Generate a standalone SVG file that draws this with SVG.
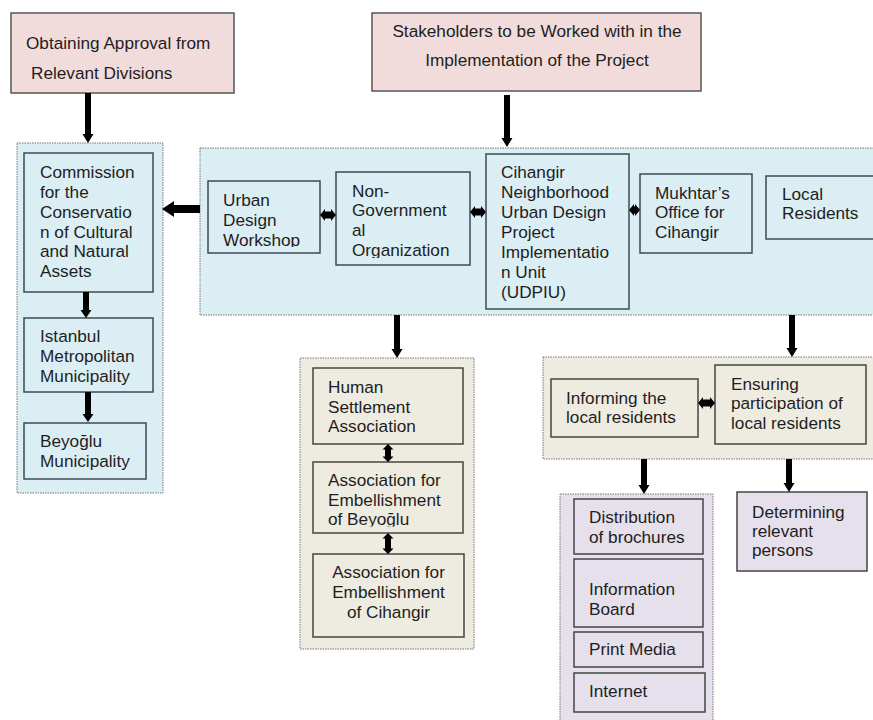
<svg xmlns="http://www.w3.org/2000/svg" width="873" height="720" viewBox="0 0 873 720">
<style>
text{font-family:"Liberation Sans",Arial,sans-serif;font-size:17.2px;fill:#1e1e1e}
.pink{fill:#f2dcdb;stroke:#555;stroke-width:1.5}
.blue{fill:#dbeef4;stroke:#3c4a55;stroke-width:1.5}
.tan{fill:#eeece1;stroke:#444;stroke-width:1.5}
.pur{fill:#e5e0ec;stroke:#444;stroke-width:1.5}
.cb{fill:#dbeef4;stroke:#777;stroke-width:1;stroke-dasharray:1.5 1}
.ct{fill:#eeece1;stroke:#777;stroke-width:1;stroke-dasharray:1.5 1}
.cp{fill:#e5e0ec;stroke:#777;stroke-width:1;stroke-dasharray:1.5 1}
.arr{fill:#000}
</style>
<defs>
<clipPath id="clipUrban"><rect x="208" y="181" width="112" height="66"/></clipPath>
<clipPath id="clipNgo"><rect x="336" y="172" width="134" height="86"/></clipPath>
<clipPath id="clipAb"><rect x="313" y="462" width="150" height="64.5"/></clipPath>
</defs>
<rect width="873" height="720" fill="#fff"/>

<g id="containers">
<rect class="cb" x="17" y="143" width="146" height="350"/>
<rect class="cb" x="200" y="148" width="680" height="167"/>
<rect class="ct" x="300" y="358" width="174" height="291"/>
<rect class="ct" x="543" y="357" width="340" height="102"/>
<rect class="cp" x="560" y="494" width="153" height="240"/>
</g>

<g id="obtaining">
<rect class="pink" x="11" y="13" width="223" height="80"/>
<text x="26" y="49">Obtaining Approval from</text>
<text x="31" y="79">Relevant Divisions</text>
</g>

<g id="stakeholders">
<rect class="pink" x="372" y="13" width="329" height="78"/>
<text x="537" y="37" text-anchor="middle">Stakeholders to be Worked with in the</text>
<text x="537" y="66" text-anchor="middle">Implementation of the Project</text>
</g>

<g id="commission">
<rect class="blue" x="24" y="153" width="129" height="139"/>
<text x="40" y="178">Commission</text>
<text x="40" y="198">for the</text>
<text x="40" y="218">Conservatio</text>
<text x="40" y="238">n of Cultural</text>
<text x="40" y="257">and Natural</text>
<text x="40" y="277">Assets</text>
</g>

<g id="istanbul">
<rect class="blue" x="24" y="318" width="129" height="74"/>
<text x="40" y="342">Istanbul</text>
<text x="40" y="362">Metropolitan</text>
<text x="40" y="382">Municipality</text>
</g>

<g id="beyoglu">
<rect class="blue" x="24" y="423" width="122" height="56"/>
<text x="40" y="447">Beyoğlu</text>
<text x="40" y="467">Municipality</text>
</g>

<g id="urban">
<rect class="blue" x="208" y="181" width="112" height="72"/>
<g clip-path="url(#clipUrban)">
<text x="223" y="206">Urban</text>
<text x="223" y="226">Design</text>
<text x="223" y="246">Workshop</text>
</g>
</g>

<g id="ngo">
<rect class="blue" x="336" y="172" width="134" height="93"/>
<g clip-path="url(#clipNgo)">
<text x="352" y="197">Non-</text>
<text x="352" y="216">Government</text>
<text x="352" y="236">al</text>
<text x="352" y="256">Organization</text>
</g>
</g>

<g id="udpiu">
<rect class="blue" x="486" y="154" width="143" height="155"/>
<text x="501" y="178">Cihangir</text>
<text x="501" y="198">Neighborhood</text>
<text x="501" y="218">Urban Design</text>
<text x="501" y="238">Project</text>
<text x="501" y="258">Implementatio</text>
<text x="501" y="278">n Unit</text>
<text x="501" y="298">(UDPIU)</text>
</g>

<g id="mukhtar">
<rect class="blue" x="640" y="174" width="112" height="79"/>
<text x="655" y="199">Mukhtar’s</text>
<text x="655" y="218">Office for</text>
<text x="655" y="238">Cihangir</text>
</g>

<g id="local">
<rect class="blue" x="766" y="176" width="120" height="63"/>
<text x="782" y="200">Local</text>
<text x="782" y="219">Residents</text>
</g>

<g id="human">
<rect class="tan" x="313" y="368" width="150" height="76"/>
<text x="328" y="393">Human</text>
<text x="328" y="413">Settlement</text>
<text x="328" y="432">Association</text>
</g>

<g id="assocBeyoglu">
<rect class="tan" x="313" y="462" width="150" height="71"/>
<g clip-path="url(#clipAb)">
<text x="328" y="486">Association for</text>
<text x="328" y="506">Embellishment</text>
<text x="328" y="525">of Beyoğlu</text>
</g>
</g>

<g id="assocCihangir">
<rect class="tan" x="313" y="554" width="151" height="83"/>
<text x="388.5" y="578" text-anchor="middle">Association for</text>
<text x="388.5" y="598" text-anchor="middle">Embellishment</text>
<text x="388.5" y="618" text-anchor="middle">of Cihangir</text>
</g>

<g id="informing">
<rect class="tan" x="551" y="379" width="147" height="58"/>
<text x="566" y="404">Informing the</text>
<text x="566" y="423">local residents</text>
</g>

<g id="ensuring">
<rect class="tan" x="715" y="365" width="151" height="79"/>
<text x="731" y="390">Ensuring</text>
<text x="731" y="409">participation of</text>
<text x="731" y="429">local residents</text>
</g>

<g id="distribution">
<rect class="pur" x="574" y="499" width="129" height="55"/>
<text x="589" y="523">Distribution</text>
<text x="589" y="543">of brochures</text>
</g>

<g id="infoBoard">
<rect class="pur" x="574" y="559" width="129" height="68"/>
<text x="589" y="595">Information</text>
<text x="589" y="615">Board</text>
</g>

<g id="printMedia">
<rect class="pur" x="574" y="632" width="129" height="35"/>
<text x="589" y="655">Print Media</text>
</g>

<g id="internet">
<rect class="pur" x="574" y="673" width="131" height="39"/>
<text x="589" y="697">Internet</text>
</g>

<g id="determining">
<rect class="pur" x="737" y="492" width="130" height="79"/>
<text x="752" y="518">Determining</text>
<text x="752" y="537">relevant</text>
<text x="752" y="556">persons</text>
</g>

<g id="connectors" class="arr">
<path d="M85 93H91V134H93.5L88 143L82.5 134H85Z"/>
<path d="M504 95H510V138H512.5L507 147L501.5 138H504Z"/>
<path d="M83 292H89V310H91.5L86 318L80.5 310H83Z"/>
<path d="M85 392H91V414H93.5L88 422L82.5 414H85Z"/>
<path d="M394 315H400V349H402.5L397 358L391.5 349H394Z"/>
<path d="M789 315H795V348H797.5L792 357L786.5 348H789Z"/>
<path d="M641 459H647V485H649.5L644 494L638.5 485H641Z"/>
<path d="M786 459H792V483H794.5L789 492L783.5 483H786Z"/>
<path d="M200 205H174V201L162 209L174 217V213H200Z"/>
<path d="M320 215L325 209V211.5H331V209L336 215L331 221V218.5H325V221Z"/>
<path d="M470 212L475 206V208.5H481V206L486 212L481 218V215.5H475V218Z"/>
<path d="M629 210L634 204V206.5H635V204L640 210L635 216V213.5H634V216Z"/>
<path d="M698 403L703 397V399.5H710V397L715 403L710 409V406.5H703V409Z"/>
<path d="M388 444L393.5 449.5H391V456.5H393.5L388 462L382.5 456.5H385V449.5H382.5Z"/>
<path d="M388 533L393.5 538.5H391V548.5H393.5L388 554L382.5 548.5H385V538.5H382.5Z"/>
</g>
</svg>
